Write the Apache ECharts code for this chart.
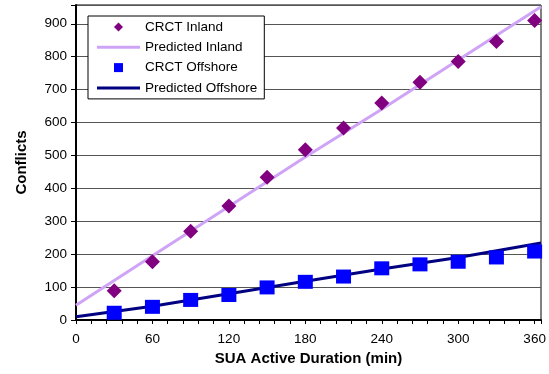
<!DOCTYPE html>
<html>
<head>
<meta charset="utf-8">
<script src="https://cdn.jsdelivr.net/npm/echarts@6/dist/echarts.min.js"></script>
<style>
  html, body { margin: 0; padding: 0; background: #fff; }
  #chart { width: 549px; height: 374px; }
</style>
</head>
<body>
<div id="chart"></div>
<script>
// observed CRCT counts
const durations = [30, 60, 90, 120, 150, 180, 210, 240, 270, 300, 330, 360]
const crctInland = [89, 177, 270, 346, 434, 517, 583, 659, 722, 785, 846, 910]
const crctOffshore = [22, 40, 61, 76, 99, 116, 132, 157, 169, 177, 190, 208]

// predicted curves, read at a few durations
const predDurations = [0, 60, 120, 180, 240, 300, 365]
const predInland = [45, 195, 345, 495, 640, 790, 952]
const predOffshore = [10, 42, 80, 118, 155, 190, 234]

const seriesNames = ['CRCT Inland', 'Predicted Inland', 'CRCT Offshore', 'Predicted Offshore']

const FONT = 'Liberation Sans, Arial, sans-serif'
// legend icons as paths so they keep their own shape inside the 43x9 slot
const LINE_ICON = 'path://M0,0 L43,0 L43,3 L0,3 Z'
const DIAMOND_ICON = 'path://M4.5,0 L9,4.5 L4.5,9 L0,4.5 Z'
const SQUARE_ICON = 'path://M0,0 L8,0 L8,8 L0,8 Z'

function pairs(xs, ys) {
  return xs.map((x, i) => [x, ys[i]])
}

const chart = echarts.init(document.getElementById('chart'))

chart.setOption({
  animation: false,
  backgroundColor: '#fff',
  textStyle: { fontFamily: FONT },
  grid: {
    left: 76,
    right: 8,
    top: 5,
    bottom: 54,
    show: true,
    borderColor: '#000',
    borderWidth: 1
  },
  legend: {
    data: [
      { name: seriesNames[0], icon: DIAMOND_ICON },
      { name: seriesNames[1], icon: LINE_ICON },
      { name: seriesNames[2], icon: SQUARE_ICON },
      { name: seriesNames[3], icon: LINE_ICON }
    ],
    orient: 'vertical',
    left: 88,
    top: 16,
    itemWidth: 43,
    itemHeight: 9,
    itemGap: 6.3,
    symbolKeepAspect: true,
    padding: [4, 7, 4, 9],
    backgroundColor: '#fff',
    borderColor: '#000',
    borderWidth: 1,
    borderRadius: 0,
    textStyle: { color: '#000', fontSize: 13.5, fontFamily: FONT }
  },
  xAxis: {
    type: 'value',
    min: 0,
    max: 365,
    interval: 12,
    name: 'SUA Active Duration (min)',
    nameLocation: 'middle',
    nameGap: 28,
    nameTextStyle: { color: '#000', fontSize: 15, fontWeight: 'bold', fontFamily: FONT },
    axisLine: { lineStyle: { color: '#000', width: 2 } },
    axisTick: { show: true, length: 4, lineStyle: { color: '#000' } },
    axisLabel: {
      color: '#000',
      fontSize: 13.5,
      margin: 12,
      formatter: v => (v % 60 === 0 ? String(v) : '')
    },
    splitLine: { show: false }
  },
  yAxis: {
    type: 'value',
    min: 0,
    max: 957,
    interval: 100,
    name: 'Conflicts',
    nameLocation: 'middle',
    nameGap: 47,
    nameTextStyle: { color: '#000', fontSize: 15, fontWeight: 'bold', fontFamily: FONT },
    axisLine: { lineStyle: { color: '#000', width: 2 } },
    axisTick: { show: true, length: 5, lineStyle: { color: '#000' } },
    axisLabel: {
      color: '#000',
      fontSize: 13.5,
      margin: 9,
      formatter: v => (v % 100 === 0 ? String(v) : '')
    },
    splitLine: { show: true, lineStyle: { color: '#555', width: 1 } }
  },
  series: [
    {
      name: 'CRCT Inland',
      type: 'scatter',
      symbol: 'diamond',
      symbolSize: 15,
      z: 4,
      itemStyle: { color: '#800080', opacity: 1 },
      data: pairs(durations, crctInland)
    },
    {
      name: 'Predicted Inland',
      type: 'line',
      symbol: 'none',
      z: 2,
      lineStyle: { color: '#cfa4f7', width: 3 },
      itemStyle: { color: '#cfa4f7' },
      data: pairs(predDurations, predInland)
    },
    {
      name: 'CRCT Offshore',
      type: 'scatter',
      symbol: 'rect',
      symbolSize: [15, 14],
      z: 4,
      itemStyle: { color: '#0000ff', opacity: 1 },
      data: pairs(durations, crctOffshore)
    },
    {
      name: 'Predicted Offshore',
      type: 'line',
      symbol: 'none',
      z: 2,
      lineStyle: { color: '#000080', width: 3 },
      itemStyle: { color: '#000080' },
      data: pairs(predDurations, predOffshore)
    }
  ]
})
</script>
</body>
</html>
